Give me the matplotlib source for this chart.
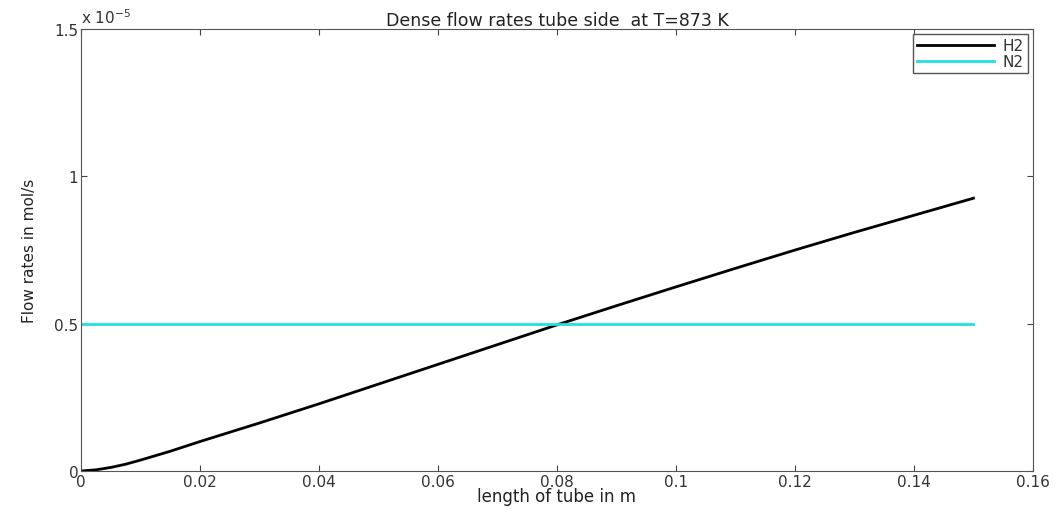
import matplotlib
matplotlib.use('Agg')
import matplotlib.pyplot as plt
from matplotlib.ticker import FuncFormatter

plt.rcParams['font.family'] = ['DejaVu Sans']

# tube position (m) and flow rates (x 1e-5 mol/s)
length = [0, 0.0025, 0.005, 0.0075, 0.01, 0.015, 0.02, 0.03, 0.04, 0.05,
          0.06, 0.07, 0.08, 0.09, 0.10, 0.11, 0.12, 0.13, 0.14, 0.15]
h2_flow = [0, 0.004, 0.012, 0.023, 0.037, 0.067, 0.100, 0.163, 0.228, 0.295,
           0.362, 0.429, 0.496, 0.561, 0.625, 0.688, 0.750, 0.810, 0.868, 0.926]
n2_flow = [0.5] * len(length)

fig = plt.figure(figsize=(10.61, 5.10), dpi=100)
ax = fig.add_axes([0.0763, 0.0745, 0.8973, 0.8665])

ax.plot(length, h2_flow, color='black', lw=2, label='H2')
ax.plot(length, n2_flow, color='#20e0e0', lw=2, label='N2')

ax.set_xlim(0, 0.16)
ax.set_ylim(0, 1.5)
ax.set_xticks([0, 0.02, 0.04, 0.06, 0.08, 0.1, 0.12, 0.14, 0.16])
ax.set_yticks([0, 0.5, 1, 1.5])
ax.xaxis.set_major_formatter(FuncFormatter(lambda v, p: '%g' % round(v, 4)))
ax.yaxis.set_major_formatter(FuncFormatter(lambda v, p: '%g' % v))
ax.tick_params(direction='in', top=True, right=True, labelsize=11, length=4,
               colors='#444444', labelcolor='#333333', pad=2)
for s in ax.spines.values():
    s.set_color('#555555')

ax.text(0.0, 1.006, r'x 10$^{-5}$', transform=ax.transAxes, fontsize=11,
        color='#333333', va='bottom', ha='left')
ax.set_title('Dense flow rates tube side  at T=873 K', fontsize=12.5,
             color='#222222', pad=3)
ax.set_xlabel('length of tube in m', fontsize=12, color='#222222', labelpad=-1)
ax.set_ylabel('Flow rates in mol/s', fontsize=11,
              family=['Liberation Sans Narrow', 'DejaVu Sans'],
              color='#222222', labelpad=12)

leg = ax.legend(loc='upper right', fontsize=11, fancybox=False, framealpha=1,
                handlelength=5, borderpad=0.25, labelspacing=0.05,
                handletextpad=0.6, borderaxespad=0.35)
leg.get_frame().set_edgecolor('#555555')
for t in leg.get_texts():
    t.set_color('#333333')

fig.savefig('out.png', dpi=100)
